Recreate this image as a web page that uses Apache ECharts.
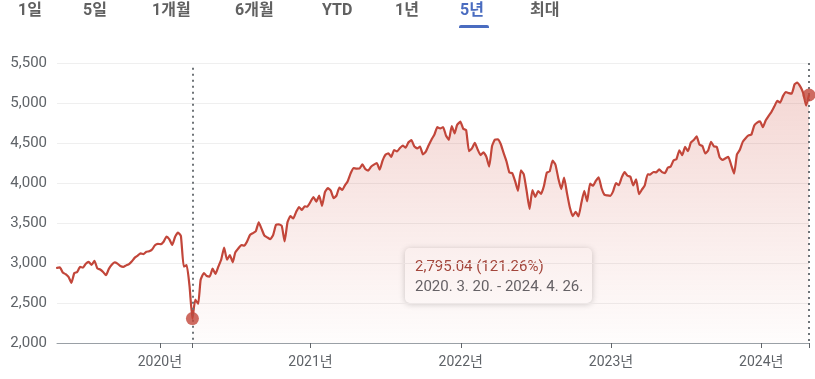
<!DOCTYPE html>
<html><head><meta charset="utf-8">
<script src="https://cdn.jsdelivr.net/npm/echarts@6/dist/echarts.min.js"></script>
<style>html,body{margin:0;padding:0;background:#fff}#c{width:815px;height:379px}</style>
</head><body><div id="c"></div>
<script>
const tabs = ['1일','5일','1개월','6개월','YTD','1년','5년','최대'];
const selectedTab = '5년';
const yTicks = [2000, 2500, 3000, 3500, 4000, 4500, 5000, 5500];
const yearTicks = ['2020-01-01','2021-01-01','2022-01-01','2023-01-01','2024-01-01'];
const rangeStart = '2020-03-20';
const rangeEnd = '2024-04-26';

const d2019 = ['2019-04-26','2019-05-03','2019-05-10','2019-05-17','2019-05-24','2019-05-31','2019-06-07','2019-06-14','2019-06-21','2019-06-28','2019-07-05','2019-07-12','2019-07-19','2019-07-26','2019-08-02','2019-08-09','2019-08-16','2019-08-23','2019-08-30','2019-09-06','2019-09-13','2019-09-20','2019-09-27','2019-10-04','2019-10-11','2019-10-18','2019-10-25','2019-11-01','2019-11-08','2019-11-15','2019-11-22','2019-11-29','2019-12-06','2019-12-13','2019-12-20','2019-12-27'];
const v2019 = [2939.88,2945.64,2881.40,2859.53,2826.06,2752.06,2873.34,2886.98,2950.46,2941.76,2990.41,3013.77,2976.61,3025.86,2932.05,2918.65,2888.68,2847.11,2926.46,2978.71,3007.39,2992.07,2961.79,2952.01,2970.27,2986.20,3022.55,3066.91,3093.08,3120.46,3110.29,3140.98,3145.91,3168.80,3221.22,3240.02];

const d2020 = ['2020-01-03','2020-01-10','2020-01-17','2020-01-24','2020-01-31','2020-02-07','2020-02-14','2020-02-21','2020-02-28','2020-03-06','2020-03-13','2020-03-20','2020-03-27','2020-04-03','2020-04-09','2020-04-17','2020-04-24','2020-05-01','2020-05-08','2020-05-15','2020-05-22','2020-05-29','2020-06-05','2020-06-12','2020-06-19','2020-06-26','2020-07-02','2020-07-10','2020-07-17','2020-07-24','2020-07-31','2020-08-07','2020-08-14','2020-08-21','2020-08-28','2020-09-04','2020-09-11','2020-09-18','2020-09-25','2020-10-02','2020-10-09','2020-10-16','2020-10-23','2020-10-30','2020-11-06','2020-11-13','2020-11-20','2020-11-27','2020-12-04','2020-12-11','2020-12-18','2020-12-24','2020-12-31'];
const v2020 = [3234.85,3265.35,3329.62,3295.47,3225.52,3327.71,3380.16,3337.75,2954.22,2972.37,2711.02,2304.92,2541.47,2488.65,2789.82,2874.56,2836.74,2830.71,2929.80,2863.70,2955.45,3044.31,3193.93,3041.31,3097.74,3009.05,3130.01,3185.04,3224.73,3215.63,3271.12,3351.28,3372.85,3397.16,3508.01,3426.96,3340.97,3319.47,3298.46,3348.44,3477.13,3483.81,3465.39,3269.96,3509.44,3585.15,3557.54,3638.35,3699.12,3663.46,3709.41,3703.06,3756.07];

const d2021 = ['2021-01-08','2021-01-15','2021-01-22','2021-01-29','2021-02-05','2021-02-12','2021-02-19','2021-02-26','2021-03-05','2021-03-12','2021-03-19','2021-03-26','2021-04-01','2021-04-09','2021-04-16','2021-04-23','2021-04-30','2021-05-07','2021-05-14','2021-05-21','2021-05-28','2021-06-04','2021-06-11','2021-06-18','2021-06-25','2021-07-02','2021-07-09','2021-07-16','2021-07-23','2021-07-30','2021-08-06','2021-08-13','2021-08-20','2021-08-27','2021-09-03','2021-09-10','2021-09-17','2021-09-24','2021-10-01','2021-10-08','2021-10-15','2021-10-22','2021-10-29','2021-11-05','2021-11-12','2021-11-19','2021-11-26','2021-12-03','2021-12-10','2021-12-17','2021-12-23','2021-12-31'];
const v2021 = [3824.68,3768.25,3841.47,3714.24,3886.83,3934.83,3906.71,3811.15,3841.94,3943.34,3913.10,3974.54,4019.87,4128.80,4185.47,4180.17,4181.17,4232.60,4173.85,4155.86,4204.11,4229.89,4247.44,4166.45,4280.70,4352.34,4369.55,4327.16,4411.79,4395.26,4436.52,4468.00,4441.67,4509.37,4535.43,4458.58,4432.99,4455.48,4357.04,4391.34,4471.37,4544.90,4605.38,4697.53,4682.85,4697.96,4594.62,4538.43,4712.02,4620.64,4725.79,4766.18];

const d2022 = ['2022-01-07','2022-01-14','2022-01-21','2022-01-28','2022-02-04','2022-02-11','2022-02-18','2022-02-25','2022-03-04','2022-03-11','2022-03-18','2022-03-25','2022-04-01','2022-04-08','2022-04-14','2022-04-22','2022-04-29','2022-05-06','2022-05-13','2022-05-20','2022-05-27','2022-06-03','2022-06-10','2022-06-17','2022-06-24','2022-07-01','2022-07-08','2022-07-15','2022-07-22','2022-07-29','2022-08-05','2022-08-12','2022-08-19','2022-08-26','2022-09-02','2022-09-09','2022-09-16','2022-09-23','2022-09-30','2022-10-07','2022-10-14','2022-10-21','2022-10-28','2022-11-04','2022-11-11','2022-11-18','2022-11-25','2022-12-02','2022-12-09','2022-12-16','2022-12-23','2022-12-30'];
const v2022 = [4677.03,4662.85,4397.94,4431.85,4500.53,4418.64,4348.87,4384.65,4328.87,4204.31,4463.12,4543.06,4545.86,4488.28,4392.59,4271.78,4131.93,4123.34,4023.89,3901.36,4158.24,4108.54,3900.86,3674.84,3911.74,3825.33,3899.38,3863.16,3961.63,4130.29,4145.19,4280.15,4228.48,4057.66,3924.26,4067.36,3873.33,3693.23,3585.62,3639.66,3583.07,3752.75,3901.06,3770.55,3992.93,3965.34,4026.12,4071.70,3934.38,3852.36,3844.82,3839.50];

const d2023 = ['2023-01-06','2023-01-13','2023-01-20','2023-01-27','2023-02-03','2023-02-10','2023-02-17','2023-02-24','2023-03-03','2023-03-10','2023-03-17','2023-03-24','2023-03-31','2023-04-06','2023-04-14','2023-04-21','2023-04-28','2023-05-05','2023-05-12','2023-05-19','2023-05-26','2023-06-02','2023-06-09','2023-06-16','2023-06-23','2023-06-30','2023-07-07','2023-07-14','2023-07-21','2023-07-28','2023-08-04','2023-08-11','2023-08-18','2023-08-25','2023-09-01','2023-09-08','2023-09-15','2023-09-22','2023-09-29','2023-10-06','2023-10-13','2023-10-20','2023-10-27','2023-11-03','2023-11-10','2023-11-17','2023-11-24','2023-12-01','2023-12-08','2023-12-15','2023-12-22','2023-12-29'];
const v2023 = [3895.08,3999.09,3972.61,4070.56,4136.48,4090.46,4079.09,3970.04,4045.64,3861.59,3916.64,3970.99,4109.31,4105.02,4137.64,4133.52,4169.48,4136.25,4124.08,4191.98,4205.45,4282.37,4298.86,4409.59,4348.33,4450.38,4398.95,4505.42,4536.34,4582.23,4478.03,4464.05,4369.71,4405.71,4515.77,4457.49,4450.32,4320.06,4288.05,4308.50,4327.78,4224.16,4117.37,4358.34,4415.24,4514.02,4559.34,4594.63,4604.37,4719.19,4754.63,4769.83];

const d2024 = ['2024-01-05','2024-01-12','2024-01-19','2024-01-26','2024-02-02','2024-02-09','2024-02-16','2024-02-23','2024-03-01','2024-03-08','2024-03-15','2024-03-22','2024-03-28','2024-04-05','2024-04-12','2024-04-19','2024-04-26'];
const v2024 = [4697.24,4783.83,4839.81,4890.97,4958.61,5026.61,5005.57,5088.80,5137.08,5123.69,5117.09,5234.18,5254.35,5204.34,5123.41,4967.23,5099.96];

const ts = s => new Date(s + 'T00:00:00').getTime();
const dates = [].concat(d2019, d2020, d2021, d2022, d2023, d2024);
const closes = [].concat(v2019, v2020, v2021, v2022, v2023, v2024);
const series = dates.map((d, i) => [ts(d), closes[i]]);
const iStart = dates.indexOf(rangeStart);
const iEnd = dates.indexOf(rangeEnd);
const startVal = closes[iStart], endVal = closes[iEnd];
const diff = endVal - startVal;
const pct = diff / startVal * 100;

const RED = '#c2463a';
const fmt = (v, n) => v.toLocaleString('en-US', {minimumFractionDigits: n, maximumFractionDigits: n});
const kdate = s => { const p = s.split('-'); return `${+p[0]}. ${+p[1]}. ${+p[2]}.`; };

const FONT = 'Roboto, "Noto Sans CJK KR", sans-serif';
const tabX = [18, 83, 152, 235, 322, 395, 460, 530];
const graphics = tabs.map((t, i) => ({
  type: 'text', left: tabX[i], top: 3,
  style: { text: t, font: `bold 16px ${FONT}`, fill: t === selectedTab ? '#4a6cc0' : '#616161' }
}));
graphics.push({ type: 'rect', left: 459, top: 25, shape: { width: 30, height: 3, r: [2,2,0,0] }, style: { fill: '#4a6cc0' } });
graphics.push({
  type: 'group', left: 405, top: 248, children: [
    { type: 'rect', shape: { x: 0, y: 0, width: 187, height: 55, r: 5 },
      style: { fill: '#fff', shadowBlur: 6, shadowColor: 'rgba(0,0,0,0.22)', shadowOffsetY: 1 } },
    { type: 'text', x: 10, y: 19, style: { text: `${fmt(diff, 2)} (${fmt(pct, 2)}%)`, font: `15px ${FONT}`, fill: '#a0463c', verticalAlign: 'middle' } },
    { type: 'text', x: 10, y: 39, style: { text: `${kdate(rangeStart)} - ${kdate(rangeEnd)}`, font: `15px ${FONT}`, fill: '#5f6368', verticalAlign: 'middle' } }
  ]
});

const chart = echarts.init(document.getElementById('c'));
chart.setOption({
  animation: false,
  grid: { left: 57, right: 6, top: 63, bottom: 36 },
  xAxis: {
    type: 'value', min: ts(dates[0]), max: ts(dates[dates.length - 1]),
    axisLine: { lineStyle: { color: '#9aa0a6', width: 1 } },
    axisTick: { show: true, length: 5, lineStyle: { color: '#5f6368' }, customValues: yearTicks.concat([rangeStart, rangeEnd]).map(ts) },
    axisLabel: { customValues: yearTicks.map(ts), formatter: v => new Date(v).getFullYear() + '년', color: '#5f6368', fontSize: 14, fontFamily: FONT, margin: 13 },
    splitLine: { show: false }
  },
  yAxis: {
    type: 'value', min: yTicks[0], max: yTicks[yTicks.length - 1], interval: 500,
    axisLine: { show: false }, axisTick: { show: false },
    axisLabel: { formatter: v => fmt(v, 0), color: '#5f6368', fontSize: 15, fontFamily: FONT, margin: 10 },
    splitLine: { lineStyle: { color: '#efefef' } }
  },
  series: [
    {
      type: 'line', data: series.slice(iStart, iEnd + 1), symbol: 'none', lineStyle: { width: 0 }, smooth: 0.15,
      areaStyle: { origin: 'start', color: new echarts.graphic.LinearGradient(0, 0, 0, 1, [
        { offset: 0, color: 'rgba(205,75,60,0.32)' }, { offset: 1, color: 'rgba(205,75,60,0.02)' }]) },
      silent: true, z: 1
    },
    {
      type: 'line', data: series, symbol: 'none', smooth: 0.15,
      lineStyle: { color: RED, width: 2.2, join: 'round', cap: 'round' }, z: 3,
      markLine: {
        silent: true, symbol: 'none', label: { show: false },
        lineStyle: { type: [2, 4], color: '#6f7478', width: 2 },
        data: [
          [{ coord: [ts(rangeStart), 5440] }, { coord: [ts(rangeStart), 2000] }],
          [{ coord: [ts(rangeEnd), 5500] }, { coord: [ts(rangeEnd), 2000] }]
        ]
      }
    },
    {
      type: 'scatter', data: [[ts(rangeStart), startVal], [ts(rangeEnd), endVal]], symbolSize: 13, clip: false,
      itemStyle: { color: RED }, z: 5
    }
  ],
  graphic: graphics
});
</script></body></html>
